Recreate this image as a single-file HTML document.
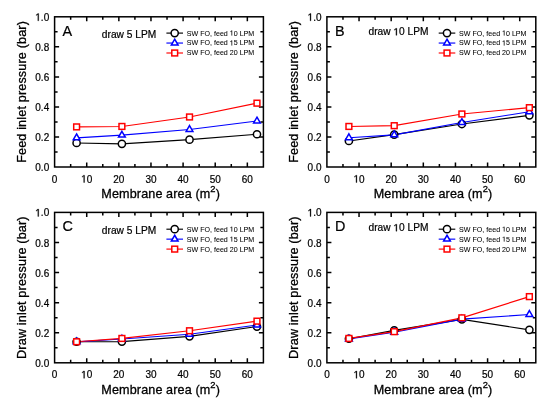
<!DOCTYPE html>
<html><head><meta charset="utf-8"><style>
html,body{margin:0;padding:0;background:#fff;width:550px;height:406px;overflow:hidden}
svg{display:block;filter:blur(0.35px)}
text{font-family:"Liberation Sans",sans-serif;fill:#000;stroke:#000;stroke-width:0.2px}
.tk{font-size:10px}
.ti{font-size:12.6px;letter-spacing:0.12px;stroke-width:0.3px}
.sup{font-size:9.4px}
.lt{font-size:14.4px}
.dr{font-size:10.2px}
.lg{font-size:7.1px;stroke-width:0.05px}
.one{fill:#000;stroke:#000;vector-effect:non-scaling-stroke}
</style></head><body>
<svg width="550" height="406" viewBox="0 0 550 406">
<rect width="550" height="406" fill="#fff"/>
<path d="M70.66 167v-3.0M70.66 16.8v3.0M86.72 167v-4.5M86.72 16.8v4.5M102.78 167v-3.0M102.78 16.8v3.0M118.85 167v-4.5M118.85 16.8v4.5M134.91 167v-3.0M134.91 16.8v3.0M150.97 167v-4.5M150.97 16.8v4.5M167.03 167v-3.0M167.03 16.8v3.0M183.09 167v-4.5M183.09 16.8v4.5M199.15 167v-3.0M199.15 16.8v3.0M215.22 167v-4.5M215.22 16.8v4.5M231.28 167v-3.0M231.28 16.8v3.0M247.34 167v-4.5M247.34 16.8v4.5M54.6 151.98h3.0M263.4 151.98h-3.0M54.6 136.96h4.5M263.4 136.96h-4.5M54.6 121.94h3.0M263.4 121.94h-3.0M54.6 106.92h4.5M263.4 106.92h-4.5M54.6 91.9h3.0M263.4 91.9h-3.0M54.6 76.88h4.5M263.4 76.88h-4.5M54.6 61.86h3.0M263.4 61.86h-3.0M54.6 46.84h4.5M263.4 46.84h-4.5M54.6 31.82h3.0M263.4 31.82h-3.0" stroke="#000" stroke-width="1.5" fill="none"/>
<rect x="54.6" y="16.8" width="208.8" height="150.2" fill="none" stroke="#000" stroke-width="1.5"/>
<text transform="translate(54.6,182.5) scale(1,1.06)" text-anchor="middle" class="tk">0</text>
<text transform="translate(86.72,182.5) scale(1,1.06)" text-anchor="middle" class="tk"> 0</text>
<text transform="translate(118.85,182.5) scale(1,1.06)" text-anchor="middle" class="tk">20</text>
<text transform="translate(150.97,182.5) scale(1,1.06)" text-anchor="middle" class="tk">30</text>
<text transform="translate(183.09,182.5) scale(1,1.06)" text-anchor="middle" class="tk">40</text>
<text transform="translate(215.22,182.5) scale(1,1.06)" text-anchor="middle" class="tk">50</text>
<text transform="translate(247.34,182.5) scale(1,1.06)" text-anchor="middle" class="tk">60</text>
<text transform="translate(49.2,171.3) scale(1,1.06)" text-anchor="end" class="tk">0.0</text>
<text transform="translate(49.2,141.2) scale(1,1.06)" text-anchor="end" class="tk">0.2</text>
<text transform="translate(49.2,111.1) scale(1,1.06)" text-anchor="end" class="tk">0.4</text>
<text transform="translate(49.2,81) scale(1,1.06)" text-anchor="end" class="tk">0.6</text>
<text transform="translate(49.2,50.9) scale(1,1.06)" text-anchor="end" class="tk">0.8</text>
<text transform="translate(49.2,20.8) scale(1,1.06)" text-anchor="end" class="tk"> .0</text>
<text x="160" y="198.3" text-anchor="middle" class="ti" dx="0.7">Membrane area (m<tspan class="sup" dy="-6.6">2</tspan><tspan dy="6.6">)</tspan></text>
<text transform="translate(25.9,91.9) rotate(-90)" x="0" y="0" text-anchor="middle" class="ti" style="letter-spacing:0.16px">Feed inlet pressure (bar)</text>
<text x="62.6" y="35.8" class="lt">A</text>
<text x="156.2" y="37.7" text-anchor="end" class="dr">draw 5 LPM</text>
<path d="M166.4 33.1H183" stroke="#000000" stroke-width="1.15"/>
<circle cx="174.7" cy="33.1" r="3.6" fill="#fff" stroke="#000000" stroke-width="1.5"/>
<text x="186.8" y="35.5" class="lg">SW FO, feed  0 LPM</text>
<path d="M166.4 43.05H183" stroke="#0000ff" stroke-width="1.15"/>
<polygon points="174.7,39.15 178.08,45 171.32,45" fill="#fff" stroke="#0000ff" stroke-width="1.5"/>
<text x="186.8" y="45.45" class="lg">SW FO, feed  5 LPM</text>
<path d="M166.4 53H183" stroke="#ff0000" stroke-width="1.15"/>
<rect x="171.8" y="50.1" width="5.8" height="5.8" fill="#fff" stroke="#ff0000" stroke-width="1.5"/>
<text x="186.8" y="55.4" class="lg">SW FO, feed 20 LPM</text>
<polyline points="76.6,142.97 121.9,143.87 189.52,139.66 256.98,134.26" fill="none" stroke="#000000" stroke-width="1.15"/>
<polyline points="76.6,137.86 121.9,135.16 189.52,129.45 256.98,121.04" fill="none" stroke="#0000ff" stroke-width="1.15"/>
<polyline points="76.6,126.9 121.9,126.45 189.52,116.98 256.98,103.17" fill="none" stroke="#ff0000" stroke-width="1.15"/>
<circle cx="76.6" cy="142.97" r="3.6" fill="#fff" stroke="#000000" stroke-width="1.5"/>
<circle cx="121.9" cy="143.87" r="3.6" fill="#fff" stroke="#000000" stroke-width="1.5"/>
<circle cx="189.52" cy="139.66" r="3.6" fill="#fff" stroke="#000000" stroke-width="1.5"/>
<circle cx="256.98" cy="134.26" r="3.6" fill="#fff" stroke="#000000" stroke-width="1.5"/>
<polygon points="76.6,133.96 79.98,139.81 73.23,139.81" fill="#fff" stroke="#0000ff" stroke-width="1.5"/>
<polygon points="121.9,131.26 125.28,137.11 118.52,137.11" fill="#fff" stroke="#0000ff" stroke-width="1.5"/>
<polygon points="189.52,125.55 192.89,131.4 186.14,131.4" fill="#fff" stroke="#0000ff" stroke-width="1.5"/>
<polygon points="256.98,117.14 260.35,122.99 253.6,122.99" fill="#fff" stroke="#0000ff" stroke-width="1.5"/>
<rect x="73.7" y="124" width="5.8" height="5.8" fill="#fff" stroke="#ff0000" stroke-width="1.5"/>
<rect x="119" y="123.55" width="5.8" height="5.8" fill="#fff" stroke="#ff0000" stroke-width="1.5"/>
<rect x="186.62" y="114.08" width="5.8" height="5.8" fill="#fff" stroke="#ff0000" stroke-width="1.5"/>
<rect x="254.08" y="100.27" width="5.8" height="5.8" fill="#fff" stroke="#ff0000" stroke-width="1.5"/>
<path d="M342.97 167v-3.0M342.97 16.8v3.0M359.04 167v-4.5M359.04 16.8v4.5M375.11 167v-3.0M375.11 16.8v3.0M391.18 167v-4.5M391.18 16.8v4.5M407.25 167v-3.0M407.25 16.8v3.0M423.32 167v-4.5M423.32 16.8v4.5M439.38 167v-3.0M439.38 16.8v3.0M455.45 167v-4.5M455.45 16.8v4.5M471.52 167v-3.0M471.52 16.8v3.0M487.59 167v-4.5M487.59 16.8v4.5M503.66 167v-3.0M503.66 16.8v3.0M519.73 167v-4.5M519.73 16.8v4.5M326.9 151.98h3.0M535.8 151.98h-3.0M326.9 136.96h4.5M535.8 136.96h-4.5M326.9 121.94h3.0M535.8 121.94h-3.0M326.9 106.92h4.5M535.8 106.92h-4.5M326.9 91.9h3.0M535.8 91.9h-3.0M326.9 76.88h4.5M535.8 76.88h-4.5M326.9 61.86h3.0M535.8 61.86h-3.0M326.9 46.84h4.5M535.8 46.84h-4.5M326.9 31.82h3.0M535.8 31.82h-3.0" stroke="#000" stroke-width="1.5" fill="none"/>
<rect x="326.9" y="16.8" width="208.9" height="150.2" fill="none" stroke="#000" stroke-width="1.5"/>
<text transform="translate(326.9,182.5) scale(1,1.06)" text-anchor="middle" class="tk">0</text>
<text transform="translate(359.04,182.5) scale(1,1.06)" text-anchor="middle" class="tk"> 0</text>
<text transform="translate(391.18,182.5) scale(1,1.06)" text-anchor="middle" class="tk">20</text>
<text transform="translate(423.32,182.5) scale(1,1.06)" text-anchor="middle" class="tk">30</text>
<text transform="translate(455.45,182.5) scale(1,1.06)" text-anchor="middle" class="tk">40</text>
<text transform="translate(487.59,182.5) scale(1,1.06)" text-anchor="middle" class="tk">50</text>
<text transform="translate(519.73,182.5) scale(1,1.06)" text-anchor="middle" class="tk">60</text>
<text transform="translate(321.5,171.3) scale(1,1.06)" text-anchor="end" class="tk">0.0</text>
<text transform="translate(321.5,141.2) scale(1,1.06)" text-anchor="end" class="tk">0.2</text>
<text transform="translate(321.5,111.1) scale(1,1.06)" text-anchor="end" class="tk">0.4</text>
<text transform="translate(321.5,81) scale(1,1.06)" text-anchor="end" class="tk">0.6</text>
<text transform="translate(321.5,50.9) scale(1,1.06)" text-anchor="end" class="tk">0.8</text>
<text transform="translate(321.5,20.8) scale(1,1.06)" text-anchor="end" class="tk"> .0</text>
<text x="432.35" y="198.3" text-anchor="middle" class="ti" dx="0.7">Membrane area (m<tspan class="sup" dy="-6.6">2</tspan><tspan dy="6.6">)</tspan></text>
<text transform="translate(298.2,91.9) rotate(-90)" x="0" y="0" text-anchor="middle" class="ti" style="letter-spacing:0.16px">Feed inlet pressure (bar)</text>
<text x="334.9" y="35.8" class="lt">B</text>
<text x="428.5" y="35.3" text-anchor="end" class="dr">draw  0 LPM</text>
<path d="M438.7 33.1H455.3" stroke="#000000" stroke-width="1.15"/>
<circle cx="447" cy="33.1" r="3.6" fill="#fff" stroke="#000000" stroke-width="1.5"/>
<text x="459.1" y="35.5" class="lg">SW FO, feed  0 LPM</text>
<path d="M438.7 43.05H455.3" stroke="#0000ff" stroke-width="1.15"/>
<polygon points="447,39.15 450.38,45 443.62,45" fill="#fff" stroke="#0000ff" stroke-width="1.5"/>
<text x="459.1" y="45.45" class="lg">SW FO, feed  5 LPM</text>
<path d="M438.7 53H455.3" stroke="#ff0000" stroke-width="1.15"/>
<rect x="444.1" y="50.1" width="5.8" height="5.8" fill="#fff" stroke="#ff0000" stroke-width="1.5"/>
<text x="459.1" y="55.4" class="lg">SW FO, feed 20 LPM</text>
<polyline points="348.91,141.02 394.23,134.56 461.88,124.04 529.37,115.33" fill="none" stroke="#000000" stroke-width="1.15"/>
<polyline points="348.91,137.71 394.23,134.86 461.88,122.54 529.37,111.73" fill="none" stroke="#0000ff" stroke-width="1.15"/>
<polyline points="348.91,126.45 394.23,125.69 461.88,113.98 529.37,107.67" fill="none" stroke="#ff0000" stroke-width="1.15"/>
<circle cx="348.91" cy="141.02" r="3.6" fill="#fff" stroke="#000000" stroke-width="1.5"/>
<circle cx="394.23" cy="134.56" r="3.6" fill="#fff" stroke="#000000" stroke-width="1.5"/>
<circle cx="461.88" cy="124.04" r="3.6" fill="#fff" stroke="#000000" stroke-width="1.5"/>
<circle cx="529.37" cy="115.33" r="3.6" fill="#fff" stroke="#000000" stroke-width="1.5"/>
<polygon points="348.91,133.81 352.29,139.66 345.54,139.66" fill="#fff" stroke="#0000ff" stroke-width="1.5"/>
<polygon points="394.23,130.96 397.61,136.81 390.85,136.81" fill="#fff" stroke="#0000ff" stroke-width="1.5"/>
<polygon points="461.88,118.64 465.26,124.49 458.5,124.49" fill="#fff" stroke="#0000ff" stroke-width="1.5"/>
<polygon points="529.37,107.83 532.75,113.68 525.99,113.68" fill="#fff" stroke="#0000ff" stroke-width="1.5"/>
<rect x="346.01" y="123.55" width="5.8" height="5.8" fill="#fff" stroke="#ff0000" stroke-width="1.5"/>
<rect x="391.33" y="122.79" width="5.8" height="5.8" fill="#fff" stroke="#ff0000" stroke-width="1.5"/>
<rect x="458.98" y="111.08" width="5.8" height="5.8" fill="#fff" stroke="#ff0000" stroke-width="1.5"/>
<rect x="526.47" y="104.77" width="5.8" height="5.8" fill="#fff" stroke="#ff0000" stroke-width="1.5"/>
<path d="M70.66 362.8v-3.0M70.66 212.4v3.0M86.72 362.8v-4.5M86.72 212.4v4.5M102.78 362.8v-3.0M102.78 212.4v3.0M118.85 362.8v-4.5M118.85 212.4v4.5M134.91 362.8v-3.0M134.91 212.4v3.0M150.97 362.8v-4.5M150.97 212.4v4.5M167.03 362.8v-3.0M167.03 212.4v3.0M183.09 362.8v-4.5M183.09 212.4v4.5M199.15 362.8v-3.0M199.15 212.4v3.0M215.22 362.8v-4.5M215.22 212.4v4.5M231.28 362.8v-3.0M231.28 212.4v3.0M247.34 362.8v-4.5M247.34 212.4v4.5M54.6 347.76h3.0M263.4 347.76h-3.0M54.6 332.72h4.5M263.4 332.72h-4.5M54.6 317.68h3.0M263.4 317.68h-3.0M54.6 302.64h4.5M263.4 302.64h-4.5M54.6 287.6h3.0M263.4 287.6h-3.0M54.6 272.56h4.5M263.4 272.56h-4.5M54.6 257.52h3.0M263.4 257.52h-3.0M54.6 242.48h4.5M263.4 242.48h-4.5M54.6 227.44h3.0M263.4 227.44h-3.0" stroke="#000" stroke-width="1.5" fill="none"/>
<rect x="54.6" y="212.4" width="208.8" height="150.4" fill="none" stroke="#000" stroke-width="1.5"/>
<text transform="translate(54.6,378.3) scale(1,1.06)" text-anchor="middle" class="tk">0</text>
<text transform="translate(86.72,378.3) scale(1,1.06)" text-anchor="middle" class="tk"> 0</text>
<text transform="translate(118.85,378.3) scale(1,1.06)" text-anchor="middle" class="tk">20</text>
<text transform="translate(150.97,378.3) scale(1,1.06)" text-anchor="middle" class="tk">30</text>
<text transform="translate(183.09,378.3) scale(1,1.06)" text-anchor="middle" class="tk">40</text>
<text transform="translate(215.22,378.3) scale(1,1.06)" text-anchor="middle" class="tk">50</text>
<text transform="translate(247.34,378.3) scale(1,1.06)" text-anchor="middle" class="tk">60</text>
<text transform="translate(49.2,367.1) scale(1,1.06)" text-anchor="end" class="tk">0.0</text>
<text transform="translate(49.2,336.96) scale(1,1.06)" text-anchor="end" class="tk">0.2</text>
<text transform="translate(49.2,306.82) scale(1,1.06)" text-anchor="end" class="tk">0.4</text>
<text transform="translate(49.2,276.68) scale(1,1.06)" text-anchor="end" class="tk">0.6</text>
<text transform="translate(49.2,246.54) scale(1,1.06)" text-anchor="end" class="tk">0.8</text>
<text transform="translate(49.2,216.4) scale(1,1.06)" text-anchor="end" class="tk"> .0</text>
<text x="160" y="394.1" text-anchor="middle" class="ti" dx="0.7">Membrane area (m<tspan class="sup" dy="-6.6">2</tspan><tspan dy="6.6">)</tspan></text>
<text transform="translate(25.9,287.6) rotate(-90)" x="0" y="0" text-anchor="middle" class="ti" style="letter-spacing:0.16px">Draw inlet pressure (bar)</text>
<text x="62.6" y="231.4" class="lt">C</text>
<text x="156.2" y="233.5" text-anchor="end" class="dr">draw 5 LPM</text>
<path d="M166.4 229.2H183" stroke="#000000" stroke-width="1.15"/>
<circle cx="174.7" cy="229.2" r="3.6" fill="#fff" stroke="#000000" stroke-width="1.5"/>
<text x="186.8" y="231.6" class="lg">SW FO, feed  0 LPM</text>
<path d="M166.4 239.15H183" stroke="#0000ff" stroke-width="1.15"/>
<polygon points="174.7,235.25 178.08,241.1 171.32,241.1" fill="#fff" stroke="#0000ff" stroke-width="1.5"/>
<text x="186.8" y="241.55" class="lg">SW FO, feed  5 LPM</text>
<path d="M166.4 249.1H183" stroke="#ff0000" stroke-width="1.15"/>
<rect x="171.8" y="246.2" width="5.8" height="5.8" fill="#fff" stroke="#ff0000" stroke-width="1.5"/>
<text x="186.8" y="251.5" class="lg">SW FO, feed 20 LPM</text>
<polyline points="76.6,341.74 121.9,341.59 189.52,336.33 256.98,326.55" fill="none" stroke="#000000" stroke-width="1.15"/>
<polyline points="76.6,341.89 121.9,339.04 189.52,334.22 256.98,325.05" fill="none" stroke="#0000ff" stroke-width="1.15"/>
<polyline points="76.6,341.74 121.9,338.44 189.52,330.76 256.98,321.14" fill="none" stroke="#ff0000" stroke-width="1.15"/>
<circle cx="76.6" cy="341.74" r="3.6" fill="#fff" stroke="#000000" stroke-width="1.5"/>
<circle cx="121.9" cy="341.59" r="3.6" fill="#fff" stroke="#000000" stroke-width="1.5"/>
<circle cx="189.52" cy="336.33" r="3.6" fill="#fff" stroke="#000000" stroke-width="1.5"/>
<circle cx="256.98" cy="326.55" r="3.6" fill="#fff" stroke="#000000" stroke-width="1.5"/>
<polygon points="76.6,337.99 79.98,343.84 73.23,343.84" fill="#fff" stroke="#0000ff" stroke-width="1.5"/>
<polygon points="121.9,335.14 125.28,340.99 118.52,340.99" fill="#fff" stroke="#0000ff" stroke-width="1.5"/>
<polygon points="189.52,330.32 192.89,336.17 186.14,336.17" fill="#fff" stroke="#0000ff" stroke-width="1.5"/>
<polygon points="256.98,321.15 260.35,327 253.6,327" fill="#fff" stroke="#0000ff" stroke-width="1.5"/>
<rect x="73.7" y="338.84" width="5.8" height="5.8" fill="#fff" stroke="#ff0000" stroke-width="1.5"/>
<rect x="119" y="335.54" width="5.8" height="5.8" fill="#fff" stroke="#ff0000" stroke-width="1.5"/>
<rect x="186.62" y="327.86" width="5.8" height="5.8" fill="#fff" stroke="#ff0000" stroke-width="1.5"/>
<rect x="254.08" y="318.24" width="5.8" height="5.8" fill="#fff" stroke="#ff0000" stroke-width="1.5"/>
<path d="M342.97 362.8v-3.0M342.97 212.4v3.0M359.04 362.8v-4.5M359.04 212.4v4.5M375.11 362.8v-3.0M375.11 212.4v3.0M391.18 362.8v-4.5M391.18 212.4v4.5M407.25 362.8v-3.0M407.25 212.4v3.0M423.32 362.8v-4.5M423.32 212.4v4.5M439.38 362.8v-3.0M439.38 212.4v3.0M455.45 362.8v-4.5M455.45 212.4v4.5M471.52 362.8v-3.0M471.52 212.4v3.0M487.59 362.8v-4.5M487.59 212.4v4.5M503.66 362.8v-3.0M503.66 212.4v3.0M519.73 362.8v-4.5M519.73 212.4v4.5M326.9 347.76h3.0M535.8 347.76h-3.0M326.9 332.72h4.5M535.8 332.72h-4.5M326.9 317.68h3.0M535.8 317.68h-3.0M326.9 302.64h4.5M535.8 302.64h-4.5M326.9 287.6h3.0M535.8 287.6h-3.0M326.9 272.56h4.5M535.8 272.56h-4.5M326.9 257.52h3.0M535.8 257.52h-3.0M326.9 242.48h4.5M535.8 242.48h-4.5M326.9 227.44h3.0M535.8 227.44h-3.0" stroke="#000" stroke-width="1.5" fill="none"/>
<rect x="326.9" y="212.4" width="208.9" height="150.4" fill="none" stroke="#000" stroke-width="1.5"/>
<text transform="translate(326.9,378.3) scale(1,1.06)" text-anchor="middle" class="tk">0</text>
<text transform="translate(359.04,378.3) scale(1,1.06)" text-anchor="middle" class="tk"> 0</text>
<text transform="translate(391.18,378.3) scale(1,1.06)" text-anchor="middle" class="tk">20</text>
<text transform="translate(423.32,378.3) scale(1,1.06)" text-anchor="middle" class="tk">30</text>
<text transform="translate(455.45,378.3) scale(1,1.06)" text-anchor="middle" class="tk">40</text>
<text transform="translate(487.59,378.3) scale(1,1.06)" text-anchor="middle" class="tk">50</text>
<text transform="translate(519.73,378.3) scale(1,1.06)" text-anchor="middle" class="tk">60</text>
<text transform="translate(321.5,367.1) scale(1,1.06)" text-anchor="end" class="tk">0.0</text>
<text transform="translate(321.5,336.96) scale(1,1.06)" text-anchor="end" class="tk">0.2</text>
<text transform="translate(321.5,306.82) scale(1,1.06)" text-anchor="end" class="tk">0.4</text>
<text transform="translate(321.5,276.68) scale(1,1.06)" text-anchor="end" class="tk">0.6</text>
<text transform="translate(321.5,246.54) scale(1,1.06)" text-anchor="end" class="tk">0.8</text>
<text transform="translate(321.5,216.4) scale(1,1.06)" text-anchor="end" class="tk"> .0</text>
<text x="432.35" y="394.1" text-anchor="middle" class="ti" dx="0.7">Membrane area (m<tspan class="sup" dy="-6.6">2</tspan><tspan dy="6.6">)</tspan></text>
<text transform="translate(298.2,287.6) rotate(-90)" x="0" y="0" text-anchor="middle" class="ti" style="letter-spacing:0.16px">Draw inlet pressure (bar)</text>
<text x="334.9" y="231.4" class="lt">D</text>
<text x="428.5" y="231.2" text-anchor="end" class="dr">draw  0 LPM</text>
<path d="M438.7 229.2H455.3" stroke="#000000" stroke-width="1.15"/>
<circle cx="447" cy="229.2" r="3.6" fill="#fff" stroke="#000000" stroke-width="1.5"/>
<text x="459.1" y="231.6" class="lg">SW FO, feed  0 LPM</text>
<path d="M438.7 239.15H455.3" stroke="#0000ff" stroke-width="1.15"/>
<polygon points="447,235.25 450.38,241.1 443.62,241.1" fill="#fff" stroke="#0000ff" stroke-width="1.5"/>
<text x="459.1" y="241.55" class="lg">SW FO, feed  5 LPM</text>
<path d="M438.7 249.1H455.3" stroke="#ff0000" stroke-width="1.15"/>
<rect x="444.1" y="246.2" width="5.8" height="5.8" fill="#fff" stroke="#ff0000" stroke-width="1.5"/>
<text x="459.1" y="251.5" class="lg">SW FO, feed 20 LPM</text>
<polyline points="348.91,338.74 394.23,330.31 461.88,319.33 529.37,329.86" fill="none" stroke="#000000" stroke-width="1.15"/>
<polyline points="348.91,339.04 394.23,332.27 461.88,319.18 529.37,314.52" fill="none" stroke="#0000ff" stroke-width="1.15"/>
<polyline points="348.91,338.44 394.23,331.67 461.88,317.83 529.37,296.62" fill="none" stroke="#ff0000" stroke-width="1.15"/>
<circle cx="348.91" cy="338.74" r="3.6" fill="#fff" stroke="#000000" stroke-width="1.5"/>
<circle cx="394.23" cy="330.31" r="3.6" fill="#fff" stroke="#000000" stroke-width="1.5"/>
<circle cx="461.88" cy="319.33" r="3.6" fill="#fff" stroke="#000000" stroke-width="1.5"/>
<circle cx="529.37" cy="329.86" r="3.6" fill="#fff" stroke="#000000" stroke-width="1.5"/>
<polygon points="348.91,335.14 352.29,340.99 345.54,340.99" fill="#fff" stroke="#0000ff" stroke-width="1.5"/>
<polygon points="394.23,328.37 397.61,334.22 390.85,334.22" fill="#fff" stroke="#0000ff" stroke-width="1.5"/>
<polygon points="461.88,315.28 465.26,321.13 458.5,321.13" fill="#fff" stroke="#0000ff" stroke-width="1.5"/>
<polygon points="529.37,310.62 532.75,316.47 525.99,316.47" fill="#fff" stroke="#0000ff" stroke-width="1.5"/>
<rect x="346.01" y="335.54" width="5.8" height="5.8" fill="#fff" stroke="#ff0000" stroke-width="1.5"/>
<rect x="391.33" y="328.77" width="5.8" height="5.8" fill="#fff" stroke="#ff0000" stroke-width="1.5"/>
<rect x="458.98" y="314.93" width="5.8" height="5.8" fill="#fff" stroke="#ff0000" stroke-width="1.5"/>
<rect x="526.47" y="293.72" width="5.8" height="5.8" fill="#fff" stroke="#ff0000" stroke-width="1.5"/>
<path class="one" style="stroke-width:0.3px" transform="translate(81.16,182.50) scale(0.004883,-0.005176)" d="M515 0V1237L197 1010V1180L530 1409H696V0Z"/>
<path class="one" style="stroke-width:0.3px" transform="translate(35.30,20.80) scale(0.004883,-0.005176)" d="M515 0V1237L197 1010V1180L530 1409H696V0Z"/>
<path class="one" style="stroke-width:0.12px" transform="translate(229.75,35.50) scale(0.003467,-0.003467)" d="M515 0V1237L197 1010V1180L530 1409H696V0Z"/>
<path class="one" style="stroke-width:0.12px" transform="translate(229.75,45.45) scale(0.003467,-0.003467)" d="M515 0V1237L197 1010V1180L530 1409H696V0Z"/>
<path class="one" style="stroke-width:0.3px" transform="translate(353.48,182.50) scale(0.004883,-0.005176)" d="M515 0V1237L197 1010V1180L530 1409H696V0Z"/>
<path class="one" style="stroke-width:0.3px" transform="translate(307.60,20.80) scale(0.004883,-0.005176)" d="M515 0V1237L197 1010V1180L530 1409H696V0Z"/>
<path class="one" style="stroke-width:0.3px" transform="translate(393.38,35.30) scale(0.004980,-0.004980)" d="M515 0V1237L197 1010V1180L530 1409H696V0Z"/>
<path class="one" style="stroke-width:0.12px" transform="translate(502.05,35.50) scale(0.003467,-0.003467)" d="M515 0V1237L197 1010V1180L530 1409H696V0Z"/>
<path class="one" style="stroke-width:0.12px" transform="translate(502.05,45.45) scale(0.003467,-0.003467)" d="M515 0V1237L197 1010V1180L530 1409H696V0Z"/>
<path class="one" style="stroke-width:0.3px" transform="translate(81.16,378.30) scale(0.004883,-0.005176)" d="M515 0V1237L197 1010V1180L530 1409H696V0Z"/>
<path class="one" style="stroke-width:0.3px" transform="translate(35.30,216.40) scale(0.004883,-0.005176)" d="M515 0V1237L197 1010V1180L530 1409H696V0Z"/>
<path class="one" style="stroke-width:0.12px" transform="translate(229.75,231.60) scale(0.003467,-0.003467)" d="M515 0V1237L197 1010V1180L530 1409H696V0Z"/>
<path class="one" style="stroke-width:0.12px" transform="translate(229.75,241.55) scale(0.003467,-0.003467)" d="M515 0V1237L197 1010V1180L530 1409H696V0Z"/>
<path class="one" style="stroke-width:0.3px" transform="translate(353.48,378.30) scale(0.004883,-0.005176)" d="M515 0V1237L197 1010V1180L530 1409H696V0Z"/>
<path class="one" style="stroke-width:0.3px" transform="translate(307.60,216.40) scale(0.004883,-0.005176)" d="M515 0V1237L197 1010V1180L530 1409H696V0Z"/>
<path class="one" style="stroke-width:0.3px" transform="translate(393.38,231.20) scale(0.004980,-0.004980)" d="M515 0V1237L197 1010V1180L530 1409H696V0Z"/>
<path class="one" style="stroke-width:0.12px" transform="translate(502.05,231.60) scale(0.003467,-0.003467)" d="M515 0V1237L197 1010V1180L530 1409H696V0Z"/>
<path class="one" style="stroke-width:0.12px" transform="translate(502.05,241.55) scale(0.003467,-0.003467)" d="M515 0V1237L197 1010V1180L530 1409H696V0Z"/>
</svg>
</body></html>
